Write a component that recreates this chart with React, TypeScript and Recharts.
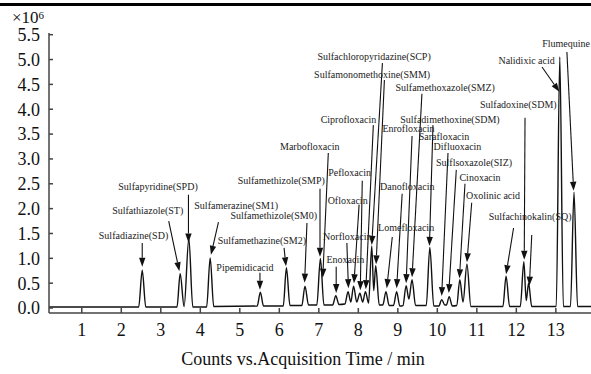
import React from 'react';
import { LineChart, Line, XAxis, YAxis, ReferenceLine, ReferenceDot } from 'recharts';

// chromatogram trace (min, counts x10^6)
const traceTime = [
  0.17, 2.44, 2.53, 2.62, 3.41, 3.49, 3.59, 3.71, 3.81, 4.16, 4.25, 4.34, 5.44, 5.52, 5.6, 6.1, 6.18, 6.27, 6.57, 6.65,
  6.74, 6.95, 7.04, 7.13, 7.35, 7.43, 7.51, 7.66, 7.74, 7.81, 7.88, 7.96, 8.04, 8.11, 8.18, 8.26, 8.34, 8.39, 8.44, 8.53,
  8.62, 8.7, 8.78, 8.89, 8.97, 9.05, 9.13, 9.21, 9.28, 9.36, 9.45, 9.72, 9.81, 9.91, 10.04, 10.11, 10.19, 10.23, 10.3, 10.38,
  10.49, 10.57, 10.65, 10.75, 10.85, 11.66, 11.74, 11.83, 12.1, 12.19, 12.25, 12.31, 12.39, 13.01, 13.1, 13.19, 13.37, 13.46, 13.55, 13.89,
];
const traceSignal = [
  0.02, 0.02, 0.76, 0.02, 0.02, 0.69, 0.03, 1.4, 0.02, 0.02, 1.01, 0.03, 0.04, 0.32, 0.04, 0.04, 0.81, 0.05, 0.05, 0.44,
  0.06, 0.06, 1.0, 0.06, 0.06, 0.25, 0.07, 0.08, 0.33, 0.12, 0.44, 0.12, 0.3, 0.12, 0.33, 0.1, 1.25, 0.35, 0.85, 0.06,
  0.06, 0.33, 0.05, 0.05, 0.33, 0.04, 0.05, 0.45, 0.18, 0.57, 0.05, 0.05, 1.22, 0.04, 0.04, 0.17, 0.06, 0.06, 0.23, 0.04,
  0.05, 0.57, 0.12, 0.88, 0.03, 0.03, 0.64, 0.03, 0.03, 0.93, 0.15, 0.5, 0.03, 0.03, 5.05, 0.03, 0.03, 2.33, 0.03, 0.03,
];

const xTicks = [1, 2, 3, 4, 5, 6, 7, 8, 9, 10, 11, 12, 13];
const yTicks = [0, 0.5, 1, 1.5, 2, 2.5, 3, 3.5, 4, 4.5, 5, 5.5];

// compound labels
const labelNames = [
  'Sulfadiazine(SD)', 'Sulfathiazole(ST)', 'Sulfapyridine(SPD)', 'Sulfamerazine(SM1)', 'Sulfamethizole(SM0)',
  'Sulfamethazine(SM2)', 'Pipemidicacid', 'Sulfamethizole(SMP)', 'Marbofloxacin', 'Pefloxacin',
  'Ofloxacin', 'Norfloxacin', 'Enoxacin', 'Ciprofloxacin', 'Sulfachloropyridazine(SCP)',
  'Sulfamonomethoxine(SMM)', 'Enrofloxacin', 'Sulfamethoxazole(SMZ)', 'Sulfadimethoxine(SDM)', 'Sarafloxacin',
  'Difluoxacin', 'Sulflsoxazole(SIZ)', 'Cinoxacin', 'Danofloxacin', 'Lomefloxacin',
  'Oxolinic acid', 'Sulfachinokalin(SQ)', 'Sulfadoxine(SDM)', 'Nalidixic acid', 'Flumequine',
];
const labelTime = [
  2.31, 2.67, 2.93, 4.91, 5.86, 5.56, 5.13, 6.05, 6.77, 7.78,
  7.73, 7.72, 7.67, 7.75, 8.4, 8.35, 9.27, 10.2, 10.32, 10.17,
  10.51, 10.93, 11.08, 9.24, 9.21, 11.41, 12.35, 12.05, 12.26, 13.26,
];
const labelSignal = [
  1.45, 1.96, 2.44, 2.06, 1.86, 1.35, 0.82, 2.56, 3.25, 2.73,
  2.16, 1.43, 0.97, 3.8, 5.06, 4.7, 3.61, 4.43, 3.8, 3.46,
  3.25, 2.93, 2.63, 2.44, 1.62, 2.26, 1.84, 4.09, 4.99, 5.33,
];

// arrows: tail -> head
const arrowFromTime = [
  2.53, 3.2, 3.7, 4.46, 6.12, 5.51, 6.7, 7.03, 7.24, 7.44, 7.71, 8.02, 8.1, 8.38, 8.61, 8.66,
  8.86, 9.11, 9.36, 9.61, 9.89, 10.27, 10.48, 10.7, 10.87, 11.93, 12.22, 12.39, 12.65, 13.28,
];
const arrowFromSignal = [
  1.31, 1.75, 2.28, 1.73, 1.21, 0.71, 1.71, 2.4, 3.12, 0.83, 1.31, 2.08, 2.56, 3.68, 4.93, 4.59,
  1.43, 2.3, 3.46, 4.31, 3.68, 3.12, 2.78, 2.5, 2.12, 1.61, 3.83, 1.47, 4.85, 5.15,
];
const arrowToTime = [
  2.53, 3.47, 3.7, 4.27, 6.17, 5.51, 6.64, 7.03, 7.1, 7.44, 7.75, 7.89, 8.05, 8.19, 8.34, 8.45,
  8.72, 8.97, 9.21, 9.36, 9.8, 10.11, 10.29, 10.56, 10.75, 11.74, 12.2, 12.33, 13.09, 13.45,
];
const arrowToSignal = [
  0.83, 0.74, 1.32, 1.07, 0.84, 0.37, 0.51, 1.03, 0.61, 0.3, 0.4, 0.5, 0.36, 0.38, 1.27, 0.88,
  0.4, 0.4, 0.5, 0.62, 1.25, 0.24, 0.3, 0.6, 0.92, 0.68, 0.97, 0.45, 4.35, 2.36,
];

const data = traceTime.map((t, i) => ({ t, s: traceSignal[i] }));

const serif = '"Liberation Serif", "Times New Roman", serif';

const Arrow = (p: any) => {
  const { x1, y1, x2, y2 } = p;
  const dx = x2 - x1;
  const dy = y2 - y1;
  const len = Math.hypot(dx, dy) || 1;
  const ux = dx / len;
  const uy = dy / len;
  const hl = 9;
  const hw = 3.2;
  const bx = x2 - ux * hl;
  const by = y2 - uy * hl;
  return (
    <g>
      <line x1={x1} y1={y1} x2={bx} y2={by} stroke="#111" strokeWidth={1.1} />
      <polygon
        points={`${x2},${y2} ${bx - uy * hw},${by + ux * hw} ${bx + uy * hw},${by - ux * hw}`}
        fill="#111"
      />
    </g>
  );
};

const makeLabel = (name: string) => (p: any) => (
  <text
    x={p.cx}
    y={p.cy}
    textAnchor="middle"
    dominantBaseline="central"
    fontFamily={serif}
    fontSize={10}
    fill="#222"
  >
    {name}
  </text>
);

export default function App() {
  return (
    <div style={{ position: 'fixed', left: 0, top: 0, width: 591, height: 374, background: '#fff', overflow: 'hidden' }}>
      <div style={{ position: 'absolute', left: 0, top: 3, width: 591, height: 3, background: '#000' }} />
      <div style={{ position: 'absolute', left: 12, top: 8, fontFamily: serif, fontSize: 17, lineHeight: '20px', color: '#111' }}>
        ×10<sup style={{ fontSize: 11, verticalAlign: 'top', position: 'relative', top: -3 }}>6</sup>
      </div>
      <LineChart width={591} height={374} data={data} margin={{ top: 33, right: 0, left: 0, bottom: 31 }}>
        <XAxis
          dataKey="t"
          type="number"
          domain={[0.17, 13.89]}
          ticks={xTicks}
          interval={0}
          allowDataOverflow
          stroke="#444"
          strokeWidth={1.5}
          tickSize={-5}
          tickMargin={15}
          height={30}
          tick={{ fill: '#111', fontSize: 18, fontFamily: serif }}
        />
        <YAxis
          type="number"
          domain={[-0.1, 5.534]}
          ticks={yTicks}
          interval={0}
          allowDataOverflow
          stroke="#444"
          strokeWidth={1.5}
          tickSize={-4}
          tickMargin={13}
          width={49}
          tickFormatter={(v: number) => v.toFixed(1)}
          tick={{ fill: '#111', fontSize: 18, fontFamily: serif }}
        />
        <Line
          type="monotone"
          dataKey="s"
          stroke="#111"
          strokeWidth={1.4}
          dot={false}
          isAnimationActive={false}
        />
        {arrowFromTime.map((t, i) => (
          <ReferenceLine
            key={`a${i}`}
            segment={[
              { x: t, y: arrowFromSignal[i] },
              { x: arrowToTime[i], y: arrowToSignal[i] },
            ]}
            shape={Arrow}
            ifOverflow="visible"
          />
        ))}
        {labelNames.map((name, i) => (
          <ReferenceDot
            key={`l${i}`}
            x={labelTime[i]}
            y={labelSignal[i]}
            r={0}
            ifOverflow="visible"
            shape={makeLabel(name)}
          />
        ))}
      </LineChart>
      <div style={{ position: 'absolute', left: 0, width: 606, top: 349, textAlign: 'center', fontFamily: serif, fontSize: 18, color: '#111' }}>
        Counts vs.Acquisition Time / min
      </div>
    </div>
  );
}
